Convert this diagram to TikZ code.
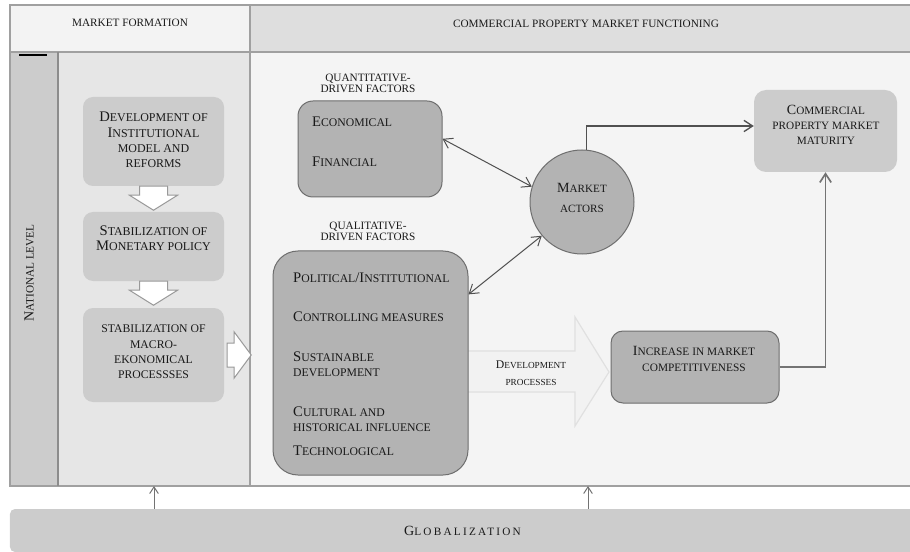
\documentclass[tikz,border=0pt]{standalone}
\usepackage{fontspec}
\setmainfont{Liberation Serif}
\usetikzlibrary{arrows.meta}

\definecolor{headleft}{HTML}{F3F3F3}
\definecolor{headright}{HTML}{DEDEDE}
\definecolor{stripgray}{HTML}{CCCCCC}
\definecolor{panelgray}{HTML}{E6E6E6}
\definecolor{maingray}{HTML}{F4F4F4}
\definecolor{boxlight}{HTML}{CCCCCC}
\definecolor{boxdark}{HTML}{B3B3B3}
\definecolor{edgegray}{HTML}{6E6E6E}
\definecolor{framegray}{HTML}{A0A0A0}
\definecolor{linkgray}{HTML}{505050}

\newcommand{\smsize}{9.6pt}
\newcommand{\setfs}[3]{\renewcommand{\smsize}{#2}\fontsize{#1}{#3}\selectfont}
\newcommand{\smc}[1]{{\fontsize{\smsize}{\baselineskip}\selectfont\MakeUppercase{#1}}}
\newcommand{\downblock}[1]
{\draw[blockarrow] (#1) ++(-14,0) -- ++(28,0) -- ++(0,9) -- ++(10,0) -- ++(-24,15) -- ++(-24,-15) -- ++(10,0) -- cycle;
}

\begin{document}
\begin{tikzpicture}[x=0.3mm,y=-0.3mm,>={Straight Barb[length=2.6mm,width=3.4mm]},
	frame/.style={draw=framegray,line width=0.45mm},
	txt/.style={inner sep=0pt,text=black!90,align=center,font=\setfs{12pt}{9.6pt}{13pt}},
	lbox/.style={fill=boxlight,rounded corners=3mm,minimum width=42.3mm,inner sep=0pt},
	dbox/.style={fill=boxdark,draw=edgegray,line width=0.3mm,inner sep=0pt},
	link/.style={draw=linkgray,line width=0.3mm},
	blockarrow/.style={fill=white,draw=black!40,line width=0.3mm},
	devarrow/.style={fill=black!5,draw=black!12,line width=0.35mm}]

\useasboundingbox (0,0) rectangle (910,552);

% panels
\fill[headleft] (10,5) rectangle (250,52);
\fill[headright] (250,5) rectangle (910,52);
\fill[stripgray] (10,52) rectangle (58,486);
\fill[panelgray] (58,52) rectangle (250,486);
\fill[maingray] (250,52) rectangle (910,486);
\draw[frame] (910,5) -- (10,5) -- (10,486) -- (910,486);
\draw[frame] (10,52) -- (910,52);
\draw[frame] (250,5) -- (250,486);
\draw[frame,draw=black!45] (58,52) -- (58,486);
\draw[black,line width=0.35mm] (19,55) -- (47,55);

\node[txt,font=\setfs{9.6pt}{9.6pt}{10pt}] (formation) at (130,23) {MARKET FORMATION};
\node[txt,font=\setfs{9.6pt}{9.6pt}{10pt}] (functioning) at (586,24) {COMMERCIAL PROPERTY MARKET FUNCTIONING};
\node[txt,rotate=90] (national) at (29,273) {N\smc{ational level}};

% market formation
\node[lbox,minimum height=26.7mm] (instit) at (153.5,141.5) {};
\node[lbox,minimum height=20.7mm] (monet) at (153.5,246.5) {};
\node[lbox,minimum height=28.2mm] (macro) at (153.5,355) {};
\node[txt,font=\setfs{12.5pt}{10.2pt}{13pt}] (institxt) at (153.5,140) {D\smc{evelopment of}\\I\smc{nstitutional}\\\smc{model and}\\\smc{reforms}};
\node[txt,font=\setfs{12.5pt}{10.2pt}{13pt}] (monettxt) at (153.5,238.5) {S\smc{tabilization of}\\M\smc{onetary policy}};
\node[txt,font=\setfs{11.5pt}{10pt}{13pt}] (macrotxt) at (153.5,352) {\smc{stabilization of}\\\smc{macro-}\\\smc{ekonomical}\\\smc{processses}};
\downblock{instit.south}
\downblock{monet.south}
\draw[blockarrow] (macro.east) ++(3,-12) -- ++(7,0) -- ++(0,-11) -- ++(17,23) -- ++(-17,23) -- ++(0,-11) -- ++(-7,0) -- cycle;

% market functioning
\node[txt,font=\setfs{9.6pt}{9.6pt}{10pt}] (quanthead) at (368,83.5) {QUANTITATIVE-\\DRIVEN FACTORS};
\node[txt,font=\setfs{9.6pt}{9.6pt}{10pt}] (qualhead) at (368,231.5) {QUALITATIVE-\\DRIVEN FACTORS};

\node[dbox,rounded corners=4.5mm,minimum width=43.2mm,minimum height=28.8mm] (econ) at (370,149) {};
\node[txt,anchor=west,align=left,font=\setfs{12.5pt}{10pt}{13pt}] (econtxt) at (312,122) {E\smc{conomical}};
\node[txt,anchor=west,align=left,font=\setfs{12.5pt}{10pt}{13pt}] (fintxt) at (312,162) {F\smc{inancial}};

\draw[devarrow] (460,351) -- (575,351) -- (575,317) -- (609,372) -- (575,426) -- (575,392) -- (460,392) -- cycle;
\node[txt,font=\setfs{10pt}{7.9pt}{14.5pt}] (devtxt) at (531,373.5) {D\smc{evelopment}\\\smc{processes}};

\node[dbox,rounded corners=7.5mm,minimum width=58.5mm,minimum height=67.2mm] (qual) at (370.5,363) {};
\foreach \y/\t [count=\i] in {278/{P\smc{olitical}/I\smc{nstitutional}},
	317/{C\smc{ontrolling measures}},
	364.5/{S\smc{ustainable}\\\smc{development}},
	419.5/{C\smc{ultural and}\\\smc{historical influence}},
	451/{T\smc{echnological}}}
	{\node[txt,anchor=west,align=left,font=\setfs{12.5pt}{10pt}{13pt}] (qualitem\i) at (293,\y) {\t};
	}

\node[dbox,circle,minimum size=31.2mm] (actors) at (582,202) {};
\node[txt,font=\setfs{12pt}{9.5pt}{17pt}] (actorstxt) at (582,198) {M\smc{arket}\\\smc{actors}};

\node[lbox,rounded corners=3.6mm,minimum width=42.9mm,minimum height=24.6mm] (maturity) at (825.5,131) {};
\node[txt] (maturitytxt) at (826,125) {C\smc{ommercial}\\\smc{property market}\\\smc{maturity}};

\node[dbox,rounded corners=3.6mm,minimum width=50.4mm,minimum height=21.6mm] (increase) at (695,367) {};
\node[txt,font=\setfs{12pt}{9.7pt}{13.6pt}] (increasetxt) at (694,359) {I\smc{ncrease in market}\\\smc{competitiveness}};

\draw[link,<->] (econ.8) -- (actors.163);
\draw[link,<->] (qual.35) -- (actors.220);
\draw[link,->,line width=0.4mm] (actors.85) |- ([yshift=1.5mm]maturity.west);
\draw[link,->,line width=0.5mm,draw=black!55] (increase.east) -| (maturity.south);

% globalization
\node[fill=boxlight,rounded corners=1.5mm,minimum width=271.5mm,minimum height=12.9mm,inner sep=0pt,text=black!90,
	font={\addfontfeature{LetterSpace=20}\setfs{12pt}{9.6pt}{13pt}}] (glob) at (462.5,530.5) {G\smc{lobalization}};
\foreach \x [count=\i] in {154,588}
	{\coordinate (up\i) at (\x,486);
	\draw[link,->,draw=black!55,>={Straight Barb[length=2mm,width=2.6mm]}] (up\i |- glob.north) -- (up\i);
	}
\end{tikzpicture}
\end{document}
